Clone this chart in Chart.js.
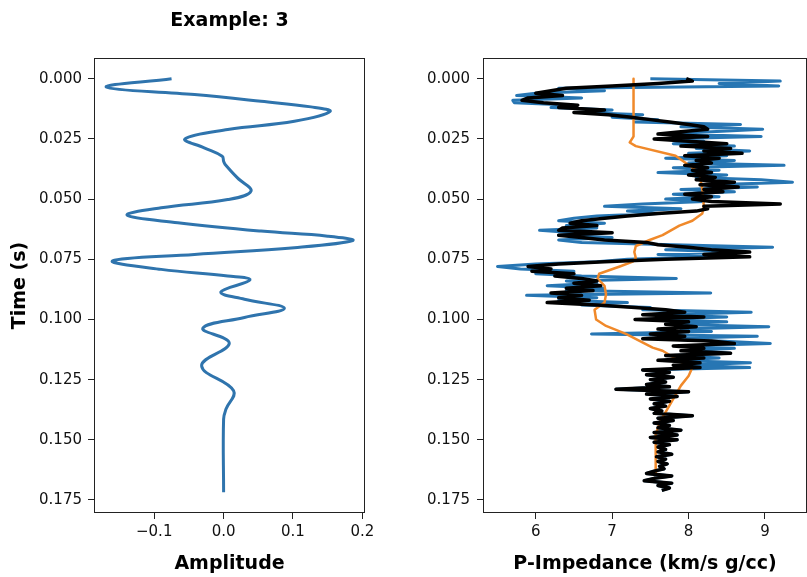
<!DOCTYPE html>
<html>
<head>
<meta charset="utf-8">
<script src="https://cdn.jsdelivr.net/npm/chart.js@4.4.1/dist/chart.umd.min.js"></script>
<style>
  html, body { margin: 0; padding: 0; background: #fff; }
  #wrap { position: relative; width: 807px; height: 577px; overflow: hidden; }
  canvas { position: absolute; top: 0; }
  #left { left: 0; }
  #right { left: 400px; }
</style>
</head>
<body>
<div id="wrap">
  <canvas id="left" width="400" height="577"></canvas>
  <canvas id="right" width="407" height="577"></canvas>
</div>
<script>
// wavelet (left panel), time in s
const waveTime = [0.0000, 0.0035, 0.0066, 0.0094, 0.0117, 0.0136, 0.0177, 0.0211, 0.0250, 0.0287,
  0.0322, 0.0343, 0.0355, 0.0412, 0.0467, 0.0502, 0.0536, 0.0567, 0.0598, 0.0633,
  0.0654, 0.0672, 0.0702, 0.0730, 0.0757, 0.0792, 0.0820, 0.0836, 0.0886, 0.0916,
  0.0954, 0.0992, 0.1037, 0.1099, 0.1193, 0.1296, 0.1372, 0.1414, 0.1718];
const waveAmp = [-0.075, -0.169, -0.042, 0.054, 0.126, 0.1535, 0.102, 0.006, -0.0557, -0.028,
  -0.002, 0.000, 0.002, 0.020, 0.0395, 0.006, -0.090, -0.139, -0.066, 0.054,
  0.150, 0.186, 0.102, -0.042, -0.160, -0.090, 0.006, 0.038, -0.004, 0.030,
  0.0876, 0.030, -0.030, 0.0082, -0.0317, 0.0144, 0.0035, 0.000, 0.000];

const timeTicks = [0, 0.025, 0.05, 0.075, 0.1, 0.125, 0.15, 0.175];
const ampTicks = [-0.1, 0, 0.1, 0.2];
const impTicks = [6, 7, 8, 9];

// impedance logs (right panel), sampled every ms
const impTimeMs = [0, 1, 2, 3, 4, 5, 6, 7, 8, 9, 10, 11, 12, 13, 14, 15, 16, 17, 18, 19,
  20, 21, 22, 23, 24, 25, 26, 27, 28, 29, 30, 31, 32, 33, 34, 35, 36, 37, 38, 39,
  40, 41, 42, 43, 44, 45, 46, 47, 48, 49, 50, 51, 52, 53, 54, 55, 56, 57, 58, 59,
  60, 61, 62, 63, 64, 65, 66, 67, 68, 69, 70, 71, 72, 73, 74, 75, 76, 77, 78, 79,
  80, 81, 82, 83, 84, 85, 86, 87, 88, 89, 90, 91, 92, 93, 94, 95, 96, 97, 98, 99,
  100, 101, 102, 103, 104, 105, 106, 107, 108, 109, 110, 111, 112, 113, 114, 115, 116, 117, 118, 119,
  120, 121, 122, 123, 124, 125, 126, 127, 128, 129, 130, 131, 132, 133, 134, 135, 136, 137, 138, 139,
  140, 141, 142, 143, 144, 145, 146, 147, 148, 149, 150, 151, 152, 153, 154, 155, 156, 157, 158, 159,
  160, 161, 162, 163, 164, 165, 166, 167, 168, 169, 170, 171];

const predImp = [7.97, 8.05, 7.6, 7.0, 6.4, 6.2, 6.0, 6.35, 5.9, 5.82,
  6.1, 6.55, 6.3, 6.9, 6.5, 6.95, 7.25, 7.5, 7.75, 8.0,
  8.2, 8.25, 7.9, 7.6, 8.25, 7.55, 8.0, 8.5, 7.9, 8.55,
  8.2, 8.7, 7.95, 8.4, 8.1, 8.3, 7.95, 8.25, 8.05, 8.3,
  8.0, 8.35, 8.1, 8.6, 8.15, 8.65, 8.2, 8.45, 7.95, 8.3,
  8.05, 8.3, 9.2, 8.2, 8.25, 8.1, 7.6, 7.2, 6.9, 6.6,
  6.45, 6.8, 6.35, 6.3, 7.0, 6.3, 6.6, 6.9, 7.45, 7.6,
  8.0, 8.3, 8.8, 8.2, 8.8, 7.7, 6.9, 6.3, 5.9, 6.2,
  5.95, 6.5, 6.25, 6.6, 6.8, 6.5, 6.85, 6.4, 6.75, 6.2,
  6.6, 6.3, 6.7, 6.15, 6.8, 7.3, 7.7, 7.95, 7.4, 8.2,
  7.3, 8.0, 7.7, 8.1, 7.6, 8.0, 7.5, 7.95, 7.4, 8.3,
  8.6, 7.8, 8.2, 7.9, 8.55, 7.7, 8.2, 7.6, 8.15, 7.8,
  8.15, 7.4, 7.75, 7.45, 7.8, 7.5, 7.7, 7.45, 7.75, 7.05,
  8.0, 7.45, 7.85, 7.5, 7.75, 7.55, 7.7, 7.5, 7.65, 7.55,
  8.05, 7.6, 7.8, 7.55, 7.75, 7.6, 7.9, 7.55, 7.85, 7.5,
  7.85, 7.55, 7.75, 7.6, 7.7, 7.6, 7.78, 7.58, 7.7, 7.6,
  7.72, 7.62, 7.68, 7.55, 7.45, 7.78, 7.55, 7.42, 7.78, 7.6,
  7.75, 7.65];

// true log: upper part differs, lower part sits under the prediction
const trueImpTop = [7.5, 9.2, 8.4, 9.18, 6.3, 6.9, 6.0, 5.75, 6.6, 5.7,
  5.72, 6.5, 6.2, 7.0, 6.6, 7.4, 7.0, 7.6, 7.3, 8.68,
  7.9, 8.97, 8.3, 7.7, 8.95, 7.6, 8.2, 7.8, 8.6, 8.1,
  8.8, 8.0, 8.5, 7.7, 8.6, 8.0, 9.25, 7.8, 8.4, 7.6,
  8.5, 8.1, 8.95, 9.36, 8.3, 8.9, 7.9, 8.6, 7.8, 8.4,
  7.7, 8.2, 7.4, 6.9, 7.9, 7.2, 7.6, 6.8, 6.5, 6.3,
  6.9, 6.4, 6.8, 6.05, 6.5, 6.3, 7.0, 6.3, 6.6, 7.8,
  9.1, 7.7, 8.6, 7.6, 8.3, 7.2, 6.8, 6.0, 5.5, 5.8,
  6.5, 6.0, 6.6, 7.84, 6.4, 6.8, 6.15, 6.9, 6.4, 8.29,
  5.88, 6.8, 6.3, 7.2, 6.6, 7.5, 7.4, 8.82, 7.6, 8.5,
  7.4, 8.5, 7.7, 9.05, 7.9, 8.3, 6.73, 8.9, 7.6, 8.4,
  9.07, 7.9, 8.6, 8.0, 8.55, 7.8, 8.4, 7.7, 8.81, 7.9,
  8.8];
const trueImp = trueImpTop.concat(predImp.slice(trueImpTop.length));

// low-frequency starting model
const modelTimeMs = [0, 24, 25, 26.5, 28, 32, 37, 39, 46, 53, 56, 59, 61, 65, 67, 69.5, 72, 74.5, 76, 78,
  81, 83, 86, 89.5, 93, 96, 100, 102.7, 106, 111.7, 113, 118, 120, 123.5, 127.5, 133, 138.5, 143, 148, 164];
const modelImp = [7.28, 7.28, 7.26, 7.23, 7.31, 7.83, 8.05, 8.14, 8.18, 8.2, 8.18, 8.05, 7.88, 7.66, 7.49, 7.31, 7.29, 7.31, 7.27, 7.1,
  6.83, 6.81, 6.9, 6.92, 6.9, 6.77, 6.79, 6.92, 7.18, 7.53, 7.66, 7.92, 8.05, 8.0, 7.9, 7.8, 7.7, 7.62, 7.57, 7.57];

Chart.defaults.font.family = "'DejaVu Sans', sans-serif";
Chart.defaults.color = '#111';
Chart.defaults.animation = false;

const frame = {
  id: 'frame',
  afterDatasetsDraw(chart) {
    const { ctx, chartArea: a } = chart;
    const x0 = Math.floor(a.left) + 0.5, x1 = Math.ceil(a.right) - 0.5;
    const y0 = Math.floor(a.top) + 0.5, y1 = Math.ceil(a.bottom) - 0.5;
    ctx.save();
    ctx.strokeStyle = '#222';
    ctx.lineWidth = 1;
    ctx.strokeRect(x0, y0, x1 - x0, y1 - y0);
    ctx.restore();
  }
};

const toPoints = (xs, ys, scale) => xs.map((x, i) => ({ x: ys[i], y: x * scale }));
const tickFont = { size: 15 };
const labelFont = { size: 19, weight: 'bold' };
const tickGrid = { drawOnChartArea: false, drawTicks: true, tickLength: 6, color: '#222' };

function timeAxis(width, title, pad) {
  return {
    type: 'linear', reverse: true, min: -0.0086, max: 0.1804,
    afterBuildTicks: s => { s.ticks = timeTicks.map(v => ({ value: v })); },
    afterFit: s => { s.width = width; },
    ticks: { font: tickFont, padding: pad, callback: v => v.toFixed(3) },
    grid: tickGrid, border: { display: false },
    title: { display: !!title, text: title, font: labelFont, color: '#000', padding: { top: 8.6 } }
  };
}

function valueAxis(min, max, ticks, fmt, title) {
  return {
    type: 'linear', min: min, max: max,
    afterBuildTicks: s => { s.ticks = ticks.map(v => ({ value: v })); },
    afterFit: s => { s.height = 64; },
    ticks: { font: tickFont, padding: 4, maxRotation: 0, callback: fmt },
    grid: tickGrid, border: { display: false },
    title: { display: true, text: title, font: labelFont, color: '#000', padding: { bottom: 2 } }
  };
}

new Chart(document.getElementById('left'), {
  type: 'scatter',
  data: {
    datasets: [{
      label: 'wavelet',
      data: toPoints(waveTime, waveAmp, 1),
      showLine: true, borderColor: '#2f74ad', borderWidth: 3,
      pointRadius: 0, tension: 0.4, borderJoinStyle: 'round'
    }]
  },
  options: {
    responsive: false,
    layout: { padding: { left: 0, right: 35, top: 0, bottom: 0 } },
    plugins: {
      legend: { display: false }, tooltip: { enabled: false },
      title: {
        display: true, text: 'Example: 3', fullSize: false, color: '#000',
        font: { size: 19, weight: 'bold' }, padding: { top: 9.6, bottom: 25.6 }
      }
    },
    scales: {
      x: valueAxis(-0.1868, 0.2038, ampTicks,
        v => v === 0 ? '0.0' : v.toFixed(1).replace('-', '\u2212'), 'Amplitude'),
      y: timeAxis(94, 'Time (s)', 6)
    }
  },
  plugins: [frame]
});

new Chart(document.getElementById('right'), {
  type: 'scatter',
  data: {
    datasets: [
      {
        label: 'predicted', order: 0,
        data: toPoints(impTimeMs, predImp, 0.001),
        showLine: true, borderColor: '#000', borderWidth: 3.5,
        pointRadius: 0, borderJoinStyle: 'round'
      },
      {
        label: 'model', order: 1,
        data: toPoints(modelTimeMs, modelImp, 0.001),
        showLine: true, borderColor: '#f0892a', borderWidth: 2.5,
        pointRadius: 0, borderJoinStyle: 'round'
      },
      {
        label: 'true', order: 2,
        data: toPoints(impTimeMs, trueImp, 0.001),
        showLine: true, borderColor: '#2776b3', borderWidth: 3,
        pointRadius: 0, borderJoinStyle: 'round'
      }
    ]
  },
  options: {
    responsive: false,
    layout: { padding: { left: 0, right: 0, top: 58, bottom: 0 } },
    plugins: { legend: { display: false }, tooltip: { enabled: false } },
    scales: {
      x: valueAxis(5.31, 9.55, impTicks, v => String(v), 'P-Impedance (km/s g/cc)'),
      y: timeAxis(83, '', 7)
    }
  },
  plugins: [frame]
});
</script>
</body>
</html>
